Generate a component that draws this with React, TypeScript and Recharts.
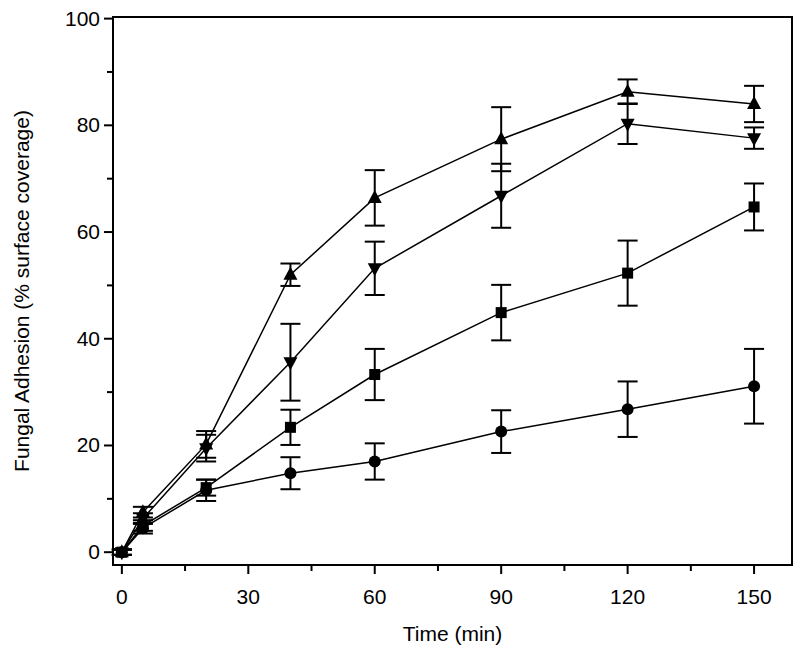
import React from 'react';
import {
  LineChart,
  Line,
  XAxis,
  YAxis,
  ErrorBar,
  ReferenceArea,
} from 'recharts';

const times = [0, 5, 20, 40, 60, 90, 120, 150];

const triUp = [0, 7.5, 20.2, 52, 66.4, 77.4, 86.3, 84];
const triUpErr = [0.5, 1, 2.5, 2.1, 5.2, 6, 2.3, 3.4];

const triDown = [0, 6.3, 19.5, 35.6, 53.2, 66.8, 80.3, 77.6];
const triDownErr = [0.5, 1, 2.5, 7.2, 5, 6, 3.8, 2];

const squares = [0, 5, 12.1, 23.4, 33.3, 44.9, 52.3, 64.7];
const squaresErr = [0.5, 1, 1.5, 3.3, 4.8, 5.2, 6.1, 4.4];

const circles = [0, 4.5, 11.6, 14.8, 17, 22.6, 26.8, 31.1];
const circlesErr = [0.5, 1, 2, 3, 3.4, 4, 5.2, 7];

const xTicks = [0, 15, 30, 45, 60, 75, 90, 105, 120, 135, 150];
const yTicks = [0, 10, 20, 30, 40, 50, 60, 70, 80, 90, 100];

const data = times.map((t, i) => ({
  t,
  up: triUp[i],
  upErr: triUpErr[i],
  down: triDown[i],
  downErr: triDownErr[i],
  sq: squares[i],
  sqErr: squaresErr[i],
  ci: circles[i],
  ciErr: circlesErr[i],
}));

const FONT = '"Liberation Sans", Arial, sans-serif';

const TriUpDot = (p: any) => (
  <path key={p.key ?? `u${p.index}`} d={`M${p.cx},${p.cy - 8} L${p.cx + 7},${p.cy + 5} L${p.cx - 7},${p.cy + 5} Z`} fill="#000" />
);
const TriDownDot = (p: any) => (
  <path key={p.key ?? `d${p.index}`} d={`M${p.cx},${p.cy + 8} L${p.cx + 7},${p.cy - 5} L${p.cx - 7},${p.cy - 5} Z`} fill="#000" />
);
const SquareDot = (p: any) => (
  <rect key={p.key ?? `s${p.index}`} x={p.cx - 5.5} y={p.cy - 5.5} width={11} height={11} fill="#000" />
);
const CircleDot = (p: any) => (
  <circle key={p.key ?? `c${p.index}`} cx={p.cx} cy={p.cy} r={6} fill="#000" />
);

const XTick = (p: any) => {
  const v = p.payload.value;
  const major = v % 30 === 0;
  return (
    <g>
      <line x1={p.x} y1={p.y} x2={p.x} y2={p.y + (major ? 9 : 6)} stroke="#000" strokeWidth={2} />
      {major && (
        <text x={p.x} y={p.y + 39} textAnchor="middle" fontSize={21} fontFamily={FONT} fill="#000">
          {v}
        </text>
      )}
    </g>
  );
};

const YTick = (p: any) => {
  const v = p.payload.value;
  const major = v % 20 === 0;
  return (
    <g>
      <line x1={p.x} y1={p.y} x2={p.x - (major ? 9 : 6)} y2={p.y} stroke="#000" strokeWidth={2} />
      {major && (
        <text x={p.x - 13} y={p.y + 7} textAnchor="end" fontSize={21} fontFamily={FONT} fill="#000">
          {v}
        </text>
      )}
    </g>
  );
};

export default function App() {
  return (
    <div style={{ position: 'absolute', left: 0, top: 0, width: 800, height: 663, background: '#fff' }}>
      <LineChart width={800} height={663} data={data} margin={{ top: 17, right: 8, left: 0, bottom: 0 }}>
        <XAxis
          dataKey="t"
          type="number"
          domain={[-2.1, 159]}
          ticks={xTicks}
          interval={0}
          tickSize={0}
          tickMargin={0}
          tick={<XTick />}
          axisLine={{ stroke: '#000', strokeWidth: 2 }}
          height={98}
          label={{ value: 'Time (min)', position: 'insideBottom', offset: 22, fontSize: 21, fontFamily: FONT, fill: '#000' }}
        />
        <YAxis
          type="number"
          domain={[-2.4, 100.3]}
          ticks={yTicks}
          interval={0}
          tickSize={0}
          tickMargin={0}
          tick={<YTick />}
          axisLine={{ stroke: '#000', strokeWidth: 2 }}
          width={113}
          label={{
            value: 'Fungal Adhesion (% surface coverage)',
            angle: -90,
            position: 'insideLeft',
            offset: 22,
            style: { textAnchor: 'middle' },
            fontSize: 21,
            fontFamily: FONT,
            fill: '#000',
          }}
        />
        <ReferenceArea x1={-2.1} x2={159} y1={-2.4} y2={100.3} fill="none" stroke="#000" strokeWidth={2} />
        <Line dataKey="ci" stroke="#000" strokeWidth={1.5} dot={CircleDot} isAnimationActive={false}>
          <ErrorBar dataKey="ciErr" width={10} stroke="#000" strokeWidth={2} direction="y" />
        </Line>
        <Line dataKey="sq" stroke="#000" strokeWidth={1.5} dot={SquareDot} isAnimationActive={false}>
          <ErrorBar dataKey="sqErr" width={10} stroke="#000" strokeWidth={2} direction="y" />
        </Line>
        <Line dataKey="down" stroke="#000" strokeWidth={1.5} dot={TriDownDot} isAnimationActive={false}>
          <ErrorBar dataKey="downErr" width={10} stroke="#000" strokeWidth={2} direction="y" />
        </Line>
        <Line dataKey="up" stroke="#000" strokeWidth={1.5} dot={TriUpDot} isAnimationActive={false}>
          <ErrorBar dataKey="upErr" width={10} stroke="#000" strokeWidth={2} direction="y" />
        </Line>
      </LineChart>
    </div>
  );
}
